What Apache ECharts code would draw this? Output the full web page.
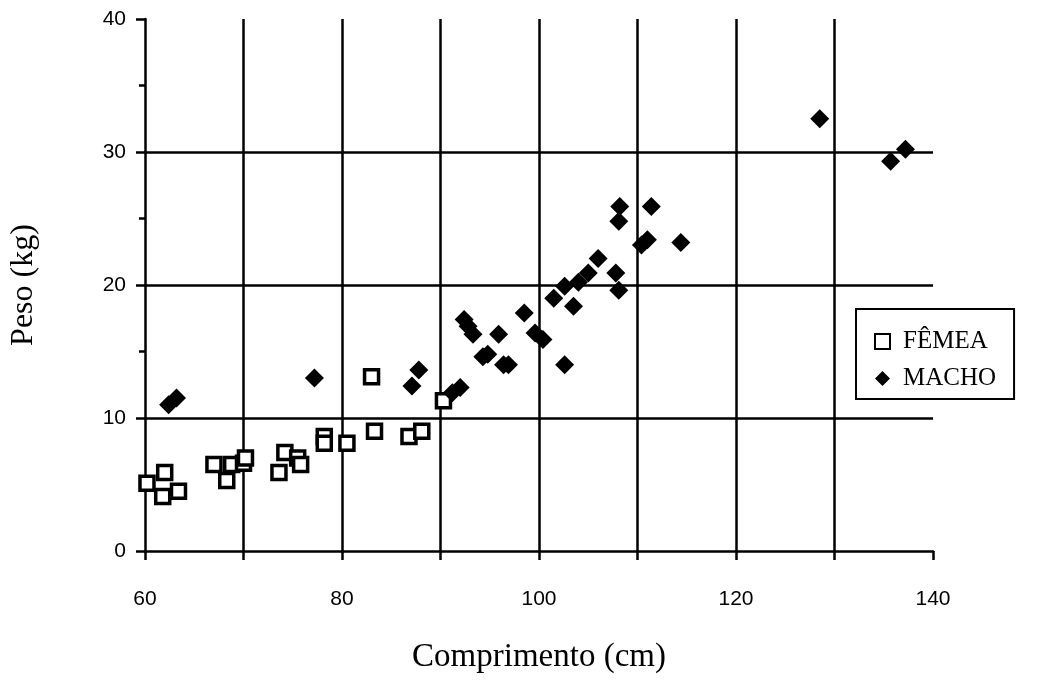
<!DOCTYPE html>
<html>
<head>
<meta charset="utf-8">
<script src="https://cdn.jsdelivr.net/npm/echarts@6/dist/echarts.min.js"></script>
<style>html,body{margin:0;padding:0;background:#fff}#c{width:1048px;height:690px}</style>
</head>
<body>
<div id="c"></div>
<script>
const femea = [[60.2,5.1],[61.8,4.1],[62.0,5.9],[63.4,4.5],[67.0,6.5],[68.3,5.3],[68.8,6.5],[70.0,6.6],[70.2,7.0],[73.6,5.9],[74.2,7.4],[75.5,7.0],[75.8,6.5],[78.2,8.6],[78.2,8.1],[80.5,8.1],[83.0,13.1],[83.3,9.0],[86.8,8.6],[88.1,9.0],[90.3,11.3]];
const macho = [[62.4,11.0],[63.2,11.5],[77.2,13.0],[87.1,12.4],[87.8,13.6],[91.2,11.9],[92.0,12.3],[92.4,17.4],[92.8,16.9],[93.3,16.3],[94.3,14.6],[94.8,14.8],[95.9,16.3],[96.4,14.0],[96.9,14.0],[98.5,17.9],[99.6,16.4],[100.4,15.9],[101.5,19.0],[102.6,19.9],[102.6,14.0],[103.5,18.4],[104.0,20.2],[105.0,20.9],[106.0,22.0],[107.8,20.9],[108.1,19.6],[108.1,24.8],[108.2,25.9],[110.4,23.0],[111.0,23.4],[111.4,25.9],[114.4,23.2],[128.5,32.5],[135.7,29.3],[137.2,30.2]];
const seriesNames = ['FÊMEA','MACHO'];
const xTitle = 'Comprimento (cm)';
const yTitle = 'Peso (kg)';

const chart = echarts.init(document.getElementById('c'));
chart.setOption({
  animation: false,
  backgroundColor: '#fff',
  grid: {left: 143, right: 115, top: 19, bottom: 139, containLabel: false},
  legend: {
    orient: 'vertical', left: 856, top: 309,
    data: [{name: seriesNames[0], icon: 'rect'}, {name: seriesNames[1], icon: 'diamond'}],
    borderColor: '#000', borderWidth: 2, padding: [20, 18, 8, 18],
    itemWidth: 15, itemHeight: 15, itemGap: 12,
    textStyle: {fontFamily: 'Liberation Serif', fontSize: 25, color: '#000', padding: [0,0,0,8]}
  },
  xAxis: {
    type: 'value', min: 60, max: 140, interval: 10,
    name: xTitle, nameLocation: 'middle', nameGap: 90,
    nameTextStyle: {fontFamily: 'Liberation Serif', fontSize: 33, color: '#000'},
    axisLine: {lineStyle: {color: '#000', width: 2.5}},
    axisTick: {show: true, length: 9, lineStyle: {color: '#000', width: 2.5}},
    axisLabel: {margin: 38, fontFamily: 'Liberation Sans', fontSize: 21, color: '#000',
      formatter: v => (v % 20 === 0 ? String(v) : '')},
    splitLine: {show: true, lineStyle: {width: 2.5, color: ['transparent','#000','#000','#000','#000','#000','#000','#000','transparent']}}
  },
  yAxis: {
    type: 'value', min: 0, max: 40, interval: 10,
    name: yTitle, nameLocation: 'middle', nameGap: 105, nameRotate: 90,
    nameTextStyle: {fontFamily: 'Liberation Serif', fontSize: 32, color: '#000'},
    axisLine: {show: true, lineStyle: {color: '#000', width: 2.5}},
    axisTick: {show: true, length: 9, lineStyle: {color: '#000', width: 2.5}},
    minorTick: {show: true, splitNumber: 2, length: 6, lineStyle: {color: '#000', width: 2.5}},
    axisLabel: {margin: 19, fontFamily: 'Liberation Sans', fontSize: 21, color: '#000'},
    splitLine: {show: true, lineStyle: {width: 2.5, color: ['transparent','#000','#000','#000','transparent']}}
  },
  series: [
    {name: seriesNames[0], type: 'scatter', data: femea, symbol: 'rect', symbolSize: 14,
     itemStyle: {color: '#fff', borderColor: '#000', borderWidth: 3.5, opacity: 1}, z: 3},
    {name: seriesNames[1], type: 'scatter', data: macho, symbol: 'diamond', symbolSize: 19,
     itemStyle: {color: '#000', opacity: 1}, z: 4}
  ]
});
</script>
</body>
</html>
